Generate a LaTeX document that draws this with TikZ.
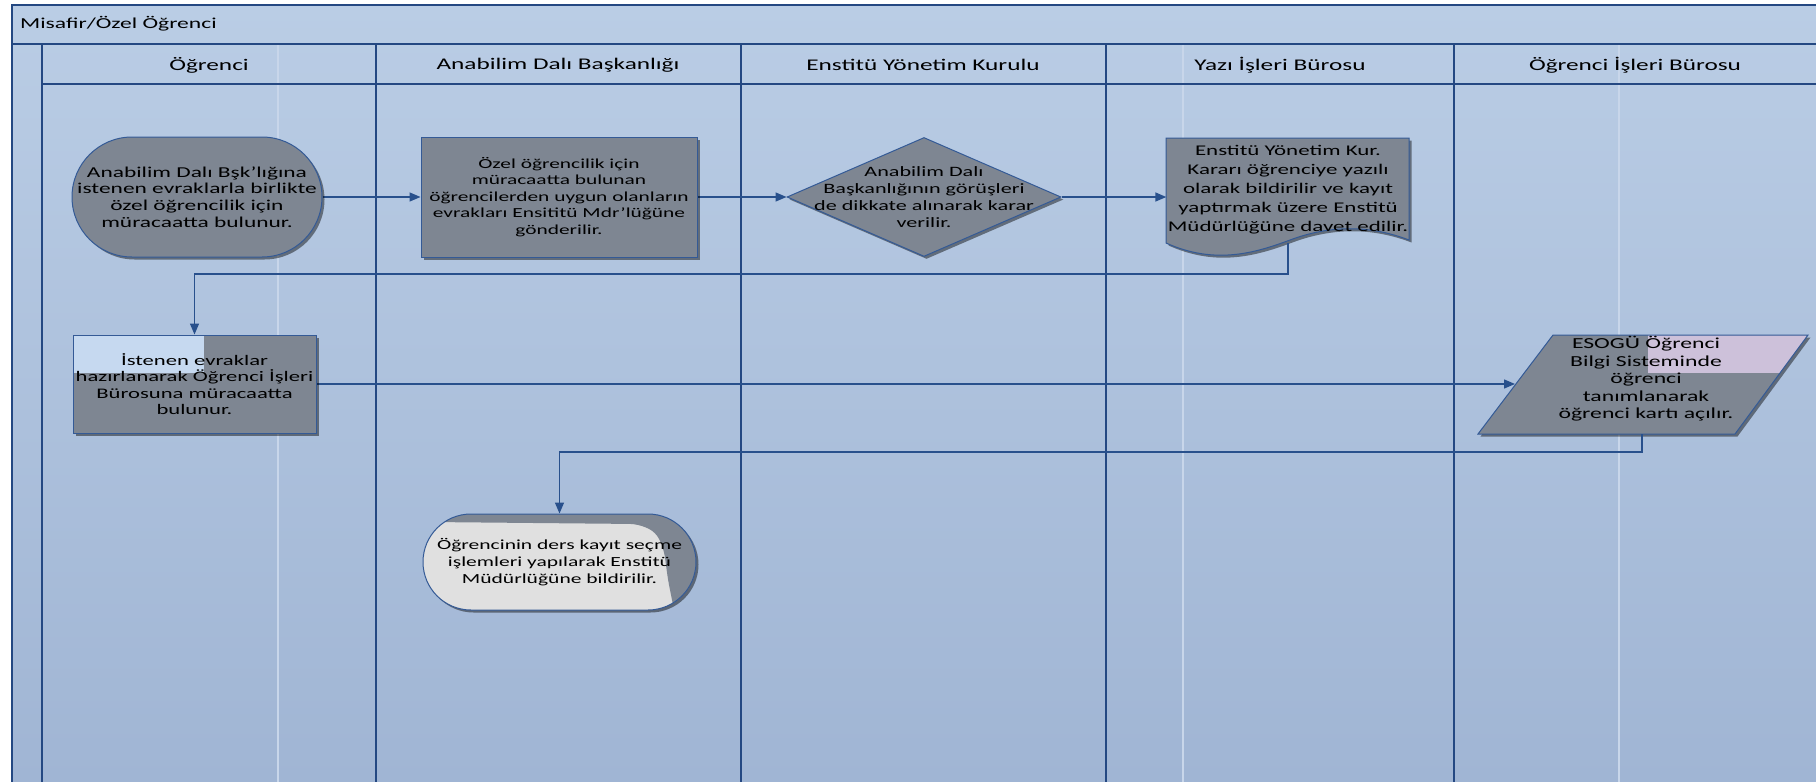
\documentclass[tikz,border=0pt]{standalone}
\usepackage{fontspec}
\setmainfont{Carlito}[FakeStretch=1.55]
\usetikzlibrary{shapes.geometric,shapes.misc,arrows.meta,shadows}
\pgfdeclarelayer{bg}
\pgfsetlayers{bg,main}
\definecolor{laneTop}{RGB}{186,205,229}
\definecolor{laneBottom}{RGB}{160,181,212}
\definecolor{laneLine}{RGB}{36,72,130}
\definecolor{laneFaint}{RGB}{200,214,234}
\definecolor{stepFill}{RGB}{126,134,146}
\definecolor{stepLine}{RGB}{52,90,150}
\definecolor{flowLine}{RGB}{40,80,140}
\definecolor{paleBlue}{RGB}{198,217,240}
\definecolor{palePink}{RGB}{205,193,218}
\definecolor{paleGrey}{RGB}{224,224,224}

\begin{document}
\begin{tikzpicture}[x=1pt,y=-1pt,
        every node/.style={font=\fontsize{13.8}{16.5}\selectfont, align=center, inner sep=0pt},
        box/.style={draw=stepLine, line width=1pt, fill=stepFill,
                drop shadow={shadow xshift=2.5pt, shadow yshift=-2.5pt, fill=black, opacity=.45}},
        term/.style={box, rounded rectangle},
        act/.style={box, rectangle},
        dec/.style={box, diamond, aspect=2.3},
        flow/.style={draw=flowLine, line width=1.4pt, -{Triangle[length=11pt,width=9pt]}},
        lane/.style={draw=laneLine, line width=1.5pt},
        head/.style={font=\fontsize{16.3}{19}\selectfont}]
        \useasboundingbox (0,0) rectangle (1816,782);
        \node (titel) [anchor=west, font=\fontsize{15.2}{18}\selectfont] at (20,24) {Misafir/Özel Öğrenci};
        \node (h1) [head] at (209,65) {Öğrenci};
        \node (h2) [head] at (558,65) {Anabilim Dalı Başkanlığı};
        \node (h3) [head] at (923,65) {Enstitü Yönetim Kurulu};
        \node (h4) [head] at (1280,65) {Yazı İşleri Bürosu};
        \node (h5) [head] at (1635,65) {Öğrenci İşleri Bürosu};
        \node (basvuru) [term, minimum width=250pt, minimum height=120pt,
                label={[font=\fontsize{15.1}{16.8}\selectfont]center:{Anabilim Dalı Bşk’lığına\\istenen evraklarla birlikte\\özel öğrencilik için\\müracaatta bulunur.}}] at (197,197) {};
        \node (evrak) [act, minimum width=276pt, minimum height=120pt] at (559,197)
                {Özel öğrencilik için\\müracaatta bulunan\\öğrencilerden uygun olanların\\evrakları Ensititü Mdr’lüğüne\\gönderilir.};
        \node (karar) [dec, minimum width=274pt, minimum height=119pt,
                label={[font=\fontsize{14.3}{16.8}\selectfont]center:{Anabilim Dalı\\Başkanlığının görüşleri\\de dikkate alınarak karar\\verilir.}}] at (924,197) {};
        \node (bildirim) [minimum width=243pt, font=\fontsize{14.8}{19}\selectfont] at (1288,189.5)
                {Enstitü Yönetim Kur.\\Kararı öğrenciye yazılı\\olarak bildirilir ve kayıt\\yaptırmak üzere Enstitü\\Müdürlüğüne davet edilir.};
        \node (hazirlik) [act, minimum width=243pt, minimum height=98pt, font=\fontsize{14.6}{16.5}\selectfont,
                path picture={\fill[paleBlue] (path picture bounding box.north west) rectangle ++(131,38);}] at (194.5,384)
                {İstenen evraklar\\hazırlanarak Öğrenci İşleri\\Bürosuna müracaatta\\bulunur.};
        \node (kayit) [font=\fontsize{15.3}{17.5}\selectfont] at (1646,379)
                {ESOGÜ Öğrenci\\Bilgi Sisteminde\\öğrenci\\tanımlanarak\\öğrenci kartı açılır.};
        \node (ders) [term, fill=paleGrey, minimum width=273pt, minimum height=96pt,
                path picture={\fill[stepFill, rounded corners=8pt] (path picture bounding box.north west) -- ++(273,0) -- ++(0,96)
                        -- ++(-22,0) -- ++(-6,-30) -- ++(-4,-30) -- ++(-8,-18) -- ++(-18,-8) -- ++(-208,-2) -- cycle;},
                label={[font=\fontsize{13.9}{17}\selectfont]center:{Öğrencinin ders kayıt seçme\\işlemleri yapılarak Enstitü\\Müdürlüğüne bildirilir.}}] at (559.5,562) {};
        \coordinate (bildirimB) at (1288,243);
        \coordinate (kayitW) at (1515,384);
        \coordinate (kayitB) at (1642,434);
        \begin{pgfonlayer}{bg}
                \fill[white] (0,0) rectangle (1816,782);
                \shade[top color=laneTop, bottom color=laneBottom] (11.5,4.5) rectangle (1816,782);
                \foreach \x in {278,1183,1619}
                        \draw[laneFaint, line width=1.5pt] (\x,43.5) -- (\x,782);
                \draw[lane, line width=2pt] (11.5,782) -- (11.5,4.5) -- (1816,4.5);
                \draw[lane, line width=2pt] (11.5,43.5) -- (1816,43.5);
                \draw[lane] (42,43.5) -- (42,782);
                \draw[lane] (42,84) -- (1816,84);
                \foreach \x in {376,741,1106,1454}
                        \draw[lane] (\x,43.5) -- (\x,782);
                \fill[black, opacity=.45, shift={(2.5,2.5)}] (1166,138) -- (1409,138) -- (1409,240)
                        .. controls (1370,225) and (1330,225) .. (1290,240) .. controls (1255,253) and (1215,265) .. (1166,243) -- cycle;
                \draw[draw=stepLine, line width=1pt, fill=stepFill] (1166,138) -- (1409,138) -- (1409,240)
                        .. controls (1370,225) and (1330,225) .. (1290,240) .. controls (1255,253) and (1215,265) .. (1166,243) -- cycle;
                \fill[black, opacity=.45, shift={(2.5,2.5)}] (1553,335) -- (1808,335) -- (1735,434) -- (1478,434) -- cycle;
                \fill[stepFill] (1553,335) -- (1808,335) -- (1735,434) -- (1478,434) -- cycle;
                \begin{scope}
                        \clip (1553,335) -- (1808,335) -- (1735,434) -- (1478,434) -- cycle;
                        \fill[palePink] (1648,335) rectangle (1816,373);
                \end{scope}
                \draw[stepLine, line width=1pt] (1553,335) -- (1808,335) -- (1735,434) -- (1478,434) -- cycle;
                \draw[flow] (basvuru.east) -- (evrak.west);
                \draw[flow] (evrak.east) -- (karar.west);
                \draw[flow] (karar.east) -- (karar.east -| bildirim.west);
                \draw[flow] (bildirimB) -- ++(0,31) -| (hazirlik.north);
                \draw[flow] (hazirlik.east) -- (kayitW);
                \draw[flow] (kayitB) -- ++(0,18) -| (ders.north);
        \end{pgfonlayer}
\end{tikzpicture}
\end{document}
